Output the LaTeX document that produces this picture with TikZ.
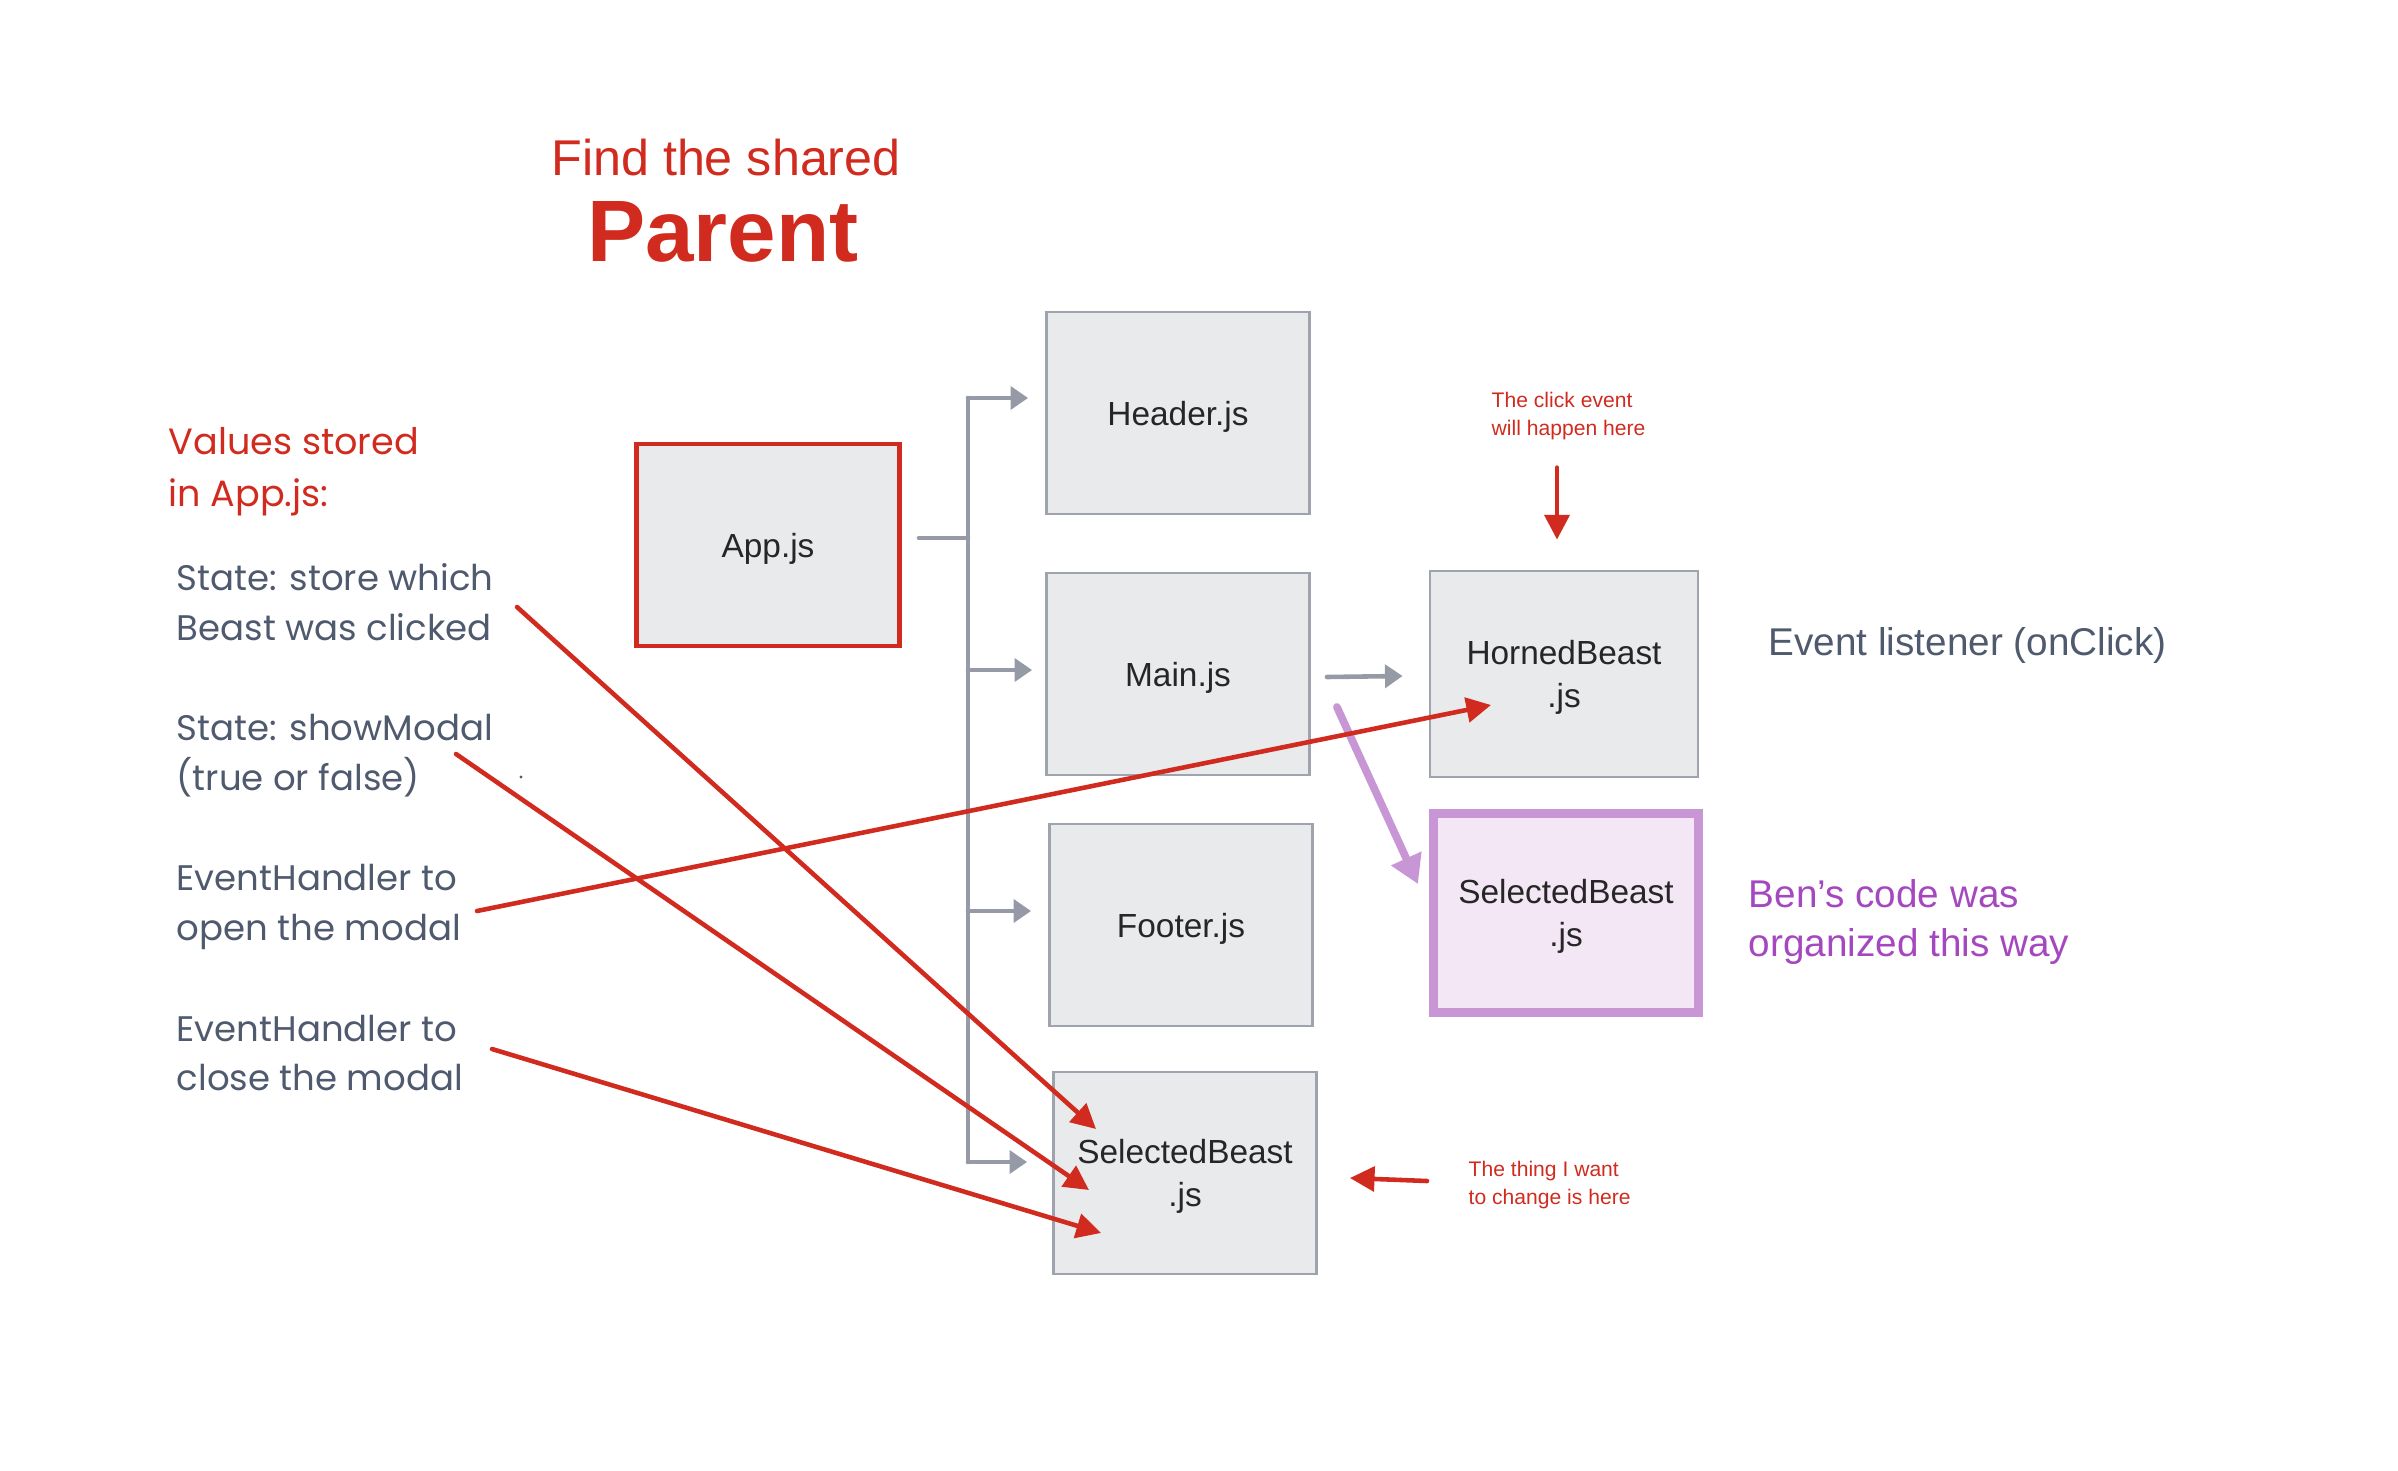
\documentclass[tikz,border=0pt]{standalone}
\usepackage{fontspec}
\setmainfont{Liberation Sans}
\newfontfamily\geofont{Poppins}
\usetikzlibrary{arrows.meta,positioning,calc}

\definecolor{flagred}{HTML}{D12B1F}
\definecolor{slatetext}{HTML}{505A6E}
\definecolor{boxfill}{HTML}{E9EAEC}
\definecolor{boxline}{HTML}{9EA3AD}
\definecolor{treegray}{HTML}{959AA6}
\definecolor{lilacline}{HTML}{C896D4}
\definecolor{lilacfill}{HTML}{F3E6F5}
\definecolor{lilactext}{HTML}{A548C0}

\tikzset{
  filebox/.style={draw=boxline, fill=boxfill, line width=0.8pt, minimum width=263*0.01cm,
    minimum height=202*0.01cm, inner sep=0pt, align=center, text depth=0pt,
    font=\fontsize{9.5}{12.2}\selectfont, text=black!85},
  tree/.style={treegray, line width=1.3pt, line cap=round},
  treearrow/.style={tree, -{Triangle[length=5pt,width=6.5pt]}},
  redarrow/.style={flagred, line width=1.3pt, line cap=round, -{Triangle[length=7pt,width=7pt]}},
  notes/.style={anchor=west, align=left, inner sep=0pt, text=slatetext,
    font=\geofont\fontsize{10.1}{14.2}\selectfont},
  tiny/.style={anchor=west, align=left, inner sep=0pt, text=flagred,
    font=\fontsize{6}{7.8}\selectfont}
}

\begin{document}
\begin{tikzpicture}[x=0.01cm, y=-0.01cm]
  \useasboundingbox (0,0) rectangle (2398,1470);

  % title
  \node[text=flagred, font=\fontsize{14.3}{16}\selectfont] (find) at (726,158) {Find the shared};
  \node[text=flagred, font=\bfseries\fontsize{24.8}{28}\selectfont] (parent) at (723,232) {Parent};

  % components
  \node[filebox, draw=flagred, line width=1.4pt] (app) at (768,545) {App.js};
  \node[filebox] (head) at (1178,413) {Header.js};
  \node[filebox] (main) at (1178,674) {Main.js};
  \node[filebox] (foot) at (1181,925) {Footer.js};
  \node[filebox] (sel) at (1185,1173) {SelectedBeast\\.js};
  \node[filebox, minimum width=268*0.01cm, minimum height=206*0.01cm] (horn) at (1564,674) {HornedBeast\\.js};
  \node[filebox, draw=lilacline, fill=lilacfill, line width=2.6pt, minimum width=265*0.01cm,
    minimum height=199*0.01cm] (selp) at (1566,913) {SelectedBeast\\.js};

  % tree from App.js
  \coordinate (fork) at (968,538);
  \coordinate (trunktop) at (968,398);
  \coordinate (trunkend) at (968,1162);
  \draw[tree] ($(app.east)+(17,-7)$) -- (fork);
  \draw[tree] (trunktop) -- (trunkend);
  \draw[treearrow] (trunktop) -- ($(head.west)+(-17,-15)$);
  \draw[treearrow] (968,670) -- ($(main.west)+(-13,-4)$);
  \draw[treearrow] (968,911) -- ($(foot.west)+(-17,-14)$);
  \draw[treearrow] (trunkend) -- ($(sel.west)+(-25,-11)$);
  \draw[treearrow] ($(main.east)+(16,3)$) -- ($(horn.west)+(-26,2)$);
  \draw[lilacline, line width=2.2pt, line cap=round, -{Triangle[length=8pt,width=9pt]}]
    ($(main.east)+(26,33)$) -- ($(selp.west)+(-11,-29)$);

  % left column
  \node[anchor=west, align=left, inner sep=0pt, text=flagred,
    font=\geofont\fontsize{10.4}{14.8}\selectfont] (stored) at (168,472) {Values stored\\in App.js:};
  \node[notes] (which) at (176,602) {State: store which\\Beast was clicked};
  \node[notes] (modal) at (176,756) {State: showModal\\(true or false)};
  \node[notes] (openh) at (176,907) {EventHandler to\\open the modal};
  \node[notes] (closeh) at (176,1053) {EventHandler to\\close the modal};
  \fill[slatetext] (521,777) circle (1.6);

  % right side notes
  \node[anchor=west, inner sep=0pt, text=slatetext, font=\fontsize{11}{14}\selectfont] (listen) at (1768,645) {Event listener (onClick)};
  \node[anchor=west, align=left, inner sep=0pt, text=lilactext, font=\fontsize{11}{14}\selectfont] (bens) at (1748,922) {Ben's code was\\organized this way};
  \node[tiny] (click) at (1491,416) {The click event\\will happen here};
  \node[tiny] (want) at (1468,1185) {The thing I want\\to change is here};

  % red pointers
  \coordinate (w1) at (517,607);
  \coordinate (w2) at (456,754);
  \coordinate (w3) at (477,911);
  \coordinate (w4) at (492,1049);
  \draw[redarrow] (w1) -- ($(sel.center)+(-89,-44)$);
  \draw[redarrow] (w2) -- ($(sel.center)+(-96,17)$);
  \draw[redarrow] (w3) -- ($(horn.center)+(-73,31)$);
  \draw[redarrow] (w4) -- ($(sel.center)+(-84,60)$);
  \draw[redarrow] ($(horn.north)+(-7,-102)$) -- ($(horn.north)+(-7,-30)$);
  \draw[redarrow] ($(want.west)+(-41,-4)$) -- ($(sel.east)+(32,5)$);
\end{tikzpicture}
\end{document}
